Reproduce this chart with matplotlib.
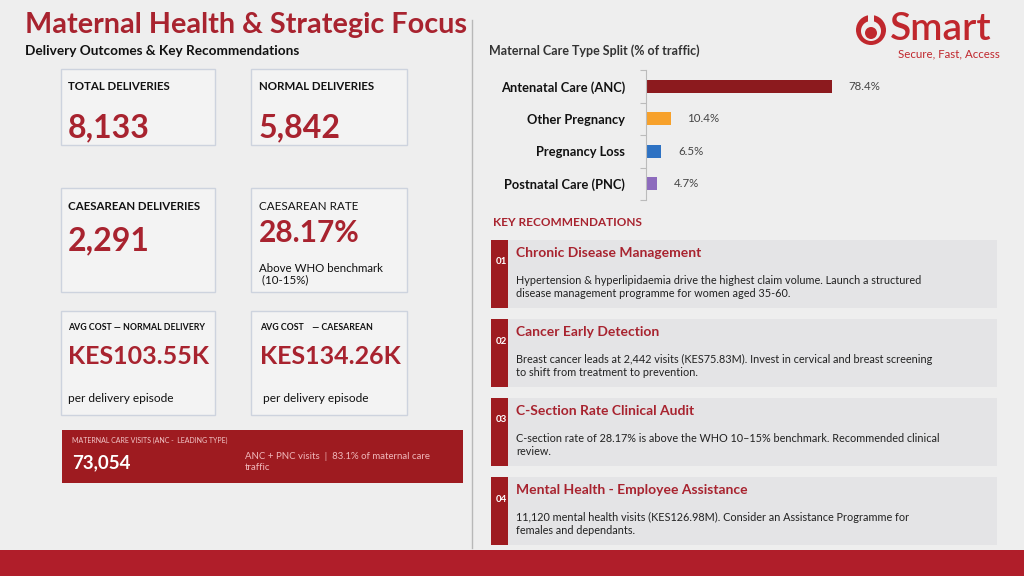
import matplotlib
matplotlib.use("Agg")
import matplotlib.pyplot as plt
from matplotlib.patches import Rectangle, Circle

plt.rcParams['font.family'] = ['Lato', 'DejaVu Sans']

# ---------------- data ----------------
title = "Maternal Health & Strategic Focus"
subtitle = "Delivery Outcomes & Key Recommendations"

kpi_labels = ["TOTAL DELIVERIES", "NORMAL DELIVERIES", "CAESAREAN DELIVERIES",
              "CAESAREAN RATE", "AVG COST — NORMAL DELIVERY", "AVG COST    — CAESAREAN"]
kpi_values = ["8,133", "5,842", "2,291", "28.17%", "KES103.55K", "KES134.26K"]
kpi_notes = ["", "", "", "Above WHO benchmark\n (10-15%)", "per delivery episode", " per delivery episode"]

banner_label = "MATERNAL CARE VISITS (ANC -  LEADING TYPE)"
banner_value = "73,054"
banner_note = "ANC + PNC visits  |  83.1% of maternal care\ntraffic"

chart_title = "Maternal Care Type Split (% of traffic)"
care_types = ["Antenatal Care (ANC)", "Other Pregnancy", "Pregnancy Loss", "Postnatal Care (PNC)"]
care_share = [78.4, 10.4, 6.5, 4.7]
care_colors = ["#8c1a1e", "#f7a12b", "#2e72c3", "#8d6bbd"]

rec_header = "KEY RECOMMENDATIONS"
rec_numbers = ["01", "02", "03", "04"]
rec_titles = ["Chronic Disease Management", "Cancer Early Detection",
              "C-Section Rate Clinical Audit", "Mental Health - Employee Assistance"]
rec_bodies = [
    "Hypertension & hyperlipidaemia drive the highest claim volume. Launch a structured\ndisease management programme for women aged 35-60.",
    "Breast cancer leads at 2,442 visits (KES75.83M). Invest in cervical and breast screening\nto shift from treatment to prevention.",
    "C-section rate of 28.17% is above the WHO 10\u201315% benchmark. Recommended clinical\nreview.",
    "11,120 mental health visits (KES126.98M). Consider an Assistance Programme for\nfemales and dependants.",
]

RED = "#a8232f"
DARK_RED = "#9e1b20"
BG = "#eeeeee"

W, H = 1024, 576
fig = plt.figure(figsize=(W / 100, H / 100), dpi=100, facecolor=BG)
ax = fig.add_axes([0, 0, 1, 1])
ax.set_xlim(0, W)
ax.set_ylim(H, 0)
ax.axis("off")
ax.set_facecolor(BG)

# title
ax.text(25, 25, title, fontsize=20.7, fontweight="bold", color=RED, va="center", ha="left")
ax.text(25, 51, subtitle, fontsize=9.8, fontweight="bold", color="#111111", va="center")

# divider
ax.plot([472, 472], [20, 548], color="#b8b8b8", lw=1)

# KPI cards
card_x = [61, 251]
card_rows = [(69, 145), (188, 292), (311, 415)]
card_w = [154, 156]
for i in range(6):
    r, c = divmod(i, 2)
    x0 = card_x[c]
    y0, y1 = card_rows[r]
    ax.add_patch(Rectangle((x0, y0), card_w[c], y1 - y0, facecolor="#f3f3f3",
                           edgecolor="#cdd3de", lw=1))

tx = [68, 259]
# row 1
for c in range(2):
    ax.text(tx[c], 86, kpi_labels[c], fontsize=8.3, fontweight="bold", color="#111111", va="center")
    ax.text(tx[c], 128, kpi_values[c], fontsize=23, fontweight="bold", color=RED, va="center")
# row 2
ax.text(68, 206, kpi_labels[2], fontsize=8.3, fontweight="bold", color="#111111", va="center")
ax.text(68, 241, kpi_values[2], fontsize=23, fontweight="bold", color=RED, va="center")
ax.text(259, 206, kpi_labels[3], fontsize=8.4, color="#111111", va="center")
ax.text(259, 233, kpi_values[3], fontsize=21.5, fontweight="bold", color=RED, va="center")
ax.text(259, 274, kpi_notes[3], fontsize=8.3, color="#111111", va="center", linespacing=1.0)
# row 3
for c in range(2):
    ax.text(tx[c] + (1 if c else 0), 328, kpi_labels[4 + c], fontsize=6.3, fontweight="bold",
            color="#111111", va="center")
    ax.text(tx[c] + (1 if c else 0), 357, kpi_values[4 + c], fontsize=18, fontweight="bold",
            color=RED, va="center")
    ax.text(tx[c] + (1 if c else 0), 399, kpi_notes[4 + c], fontsize=8.6, color="#111111", va="center")

# banner
ax.add_patch(Rectangle((62, 430), 401, 53, facecolor=DARK_RED, edgecolor="none"))
ax.text(72, 440, banner_label, fontsize=5.0, color="#f2c6c8", va="center")
ax.text(72, 463, banner_value, fontsize=13.5, fontweight="bold", color="white", va="center")
ax.text(245, 462, banner_note, fontsize=6.9, color="#f0b8bb", va="center", linespacing=1.2)

# bottom band
ax.add_patch(Rectangle((0, 550), W, 26, facecolor="#b01e2a", edgecolor="none"))

# logo
ax.add_patch(Circle((871, 30), 15, facecolor="#c0272d", edgecolor="none"))
ax.add_patch(Circle((871, 31), 10, facecolor=BG, edgecolor="none"))
ax.add_patch(Circle((871, 33), 6, facecolor="#c0272d", edgecolor="none"))
ax.add_patch(Rectangle((868, 14), 6, 8, facecolor=BG, edgecolor="none"))
ax.text(890, 29, "Smart", fontsize=28, fontweight="semibold", color="#c0272d", va="center", ha="left")
ax.text(1000, 54, "Secure, Fast, Access", fontsize=8.3, color="#c0272d", va="center", ha="right")

# chart title
ax.text(489, 51, chart_title, fontsize=9.0, fontweight="bold", color="#333333", va="center")

# bar chart
x0p, y0p, wp, hp = 646, 70, 320, 130
bax = fig.add_axes([x0p / W, 1 - (y0p + hp) / H, wp / W, hp / H])
bax.set_facecolor("none")
ypos = list(range(len(care_types)))
bax.barh(ypos, care_share, height=0.4, color=care_colors)
bax.set_ylim(3.5, -0.5)
bax.set_xlim(0, wp / 2.37)
for s in ["top", "right", "bottom"]:
    bax.spines[s].set_visible(False)
bax.spines["left"].set_color("#bbbbbb")
bax.set_xticks([])
bax.set_yticks([-0.5, 0.5, 1.5, 2.5, 3.5], minor=False)
bax.set_yticklabels([])
bax.tick_params(axis="y", length=4, color="#bbbbbb")
bax.set_yticks(ypos, minor=True)
bax.set_yticklabels(care_types, minor=True, fontsize=9.3, fontweight="bold", color="#111111")
bax.tick_params(axis="y", which="minor", length=0, pad=15)
for yv, v in zip(ypos, care_share):
    bax.annotate(f"{v}%", xy=(v, yv), xytext=(12, 0), textcoords="offset points",
                 fontsize=8.3, color="#444444", va="center", ha="left")

# recommendations
ax.text(493, 223, rec_header, fontsize=8.5, fontweight="bold", color=RED, va="center")
rec_tops = [240, 319, 398, 477]
for i in range(4):
    t = rec_tops[i]
    ax.add_patch(Rectangle((491, t), 506, 68, facecolor="#e4e4e6", edgecolor="none"))
    ax.add_patch(Rectangle((491, t), 17, 68, facecolor=DARK_RED, edgecolor="none"))
    ax.text(496, t + 22, rec_numbers[i], fontsize=7, fontweight="bold", color="white", va="center")
    ax.text(516, t + 13, rec_titles[i], fontsize=10, fontweight="bold", color=RED, va="center")
    ax.text(516, t + 47, rec_bodies[i], fontsize=7.8, color="#222222", va="center", linespacing=1.3)

fig.savefig("out.png", dpi=100, facecolor=BG)
